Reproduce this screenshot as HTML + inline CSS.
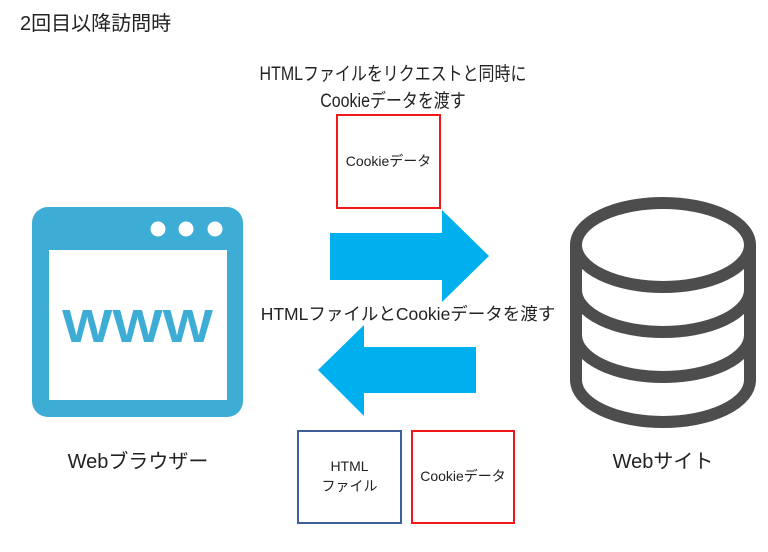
<!DOCTYPE html>
<html><head><meta charset="utf-8"><style>
body{margin:0;width:768px;height:552px;background:#fff;position:relative;overflow:hidden;font-family:"Liberation Sans","Noto Sans CJK JP",sans-serif;color:#222}
.t{position:absolute;white-space:nowrap;line-height:1}
.c{transform:translateX(-50%);text-align:center}
.box{position:absolute;box-sizing:border-box;border:2px solid #f01818;display:flex;align-items:center;justify-content:center;font-size:14px;text-align:center;line-height:1.4}
</style></head><body>
<div class="t" style="left:20px;top:14px;font-size:20px">2回目以降訪問時</div>
<div class="t c" style="left:393px;top:61px;font-size:19px;line-height:27px;transform:translateX(-50%) scaleX(0.84)">HTMLファイルをリクエストと同時に<br>Cookieデータを渡す</div>
<div class="box" style="left:336px;top:114px;width:105px;height:95px">Cookieデータ</div>
<div class="t c" style="left:408px;top:306px;font-size:17.5px">HTMLファイルとCookieデータを渡す</div>
<div class="box" style="left:297px;top:430px;width:105px;height:94px;border-color:#3f5f9a">HTML<br>ファイル</div>
<div class="box" style="left:411px;top:430px;width:104px;height:94px">Cookieデータ</div>
<div class="t c" style="left:138px;top:452px;font-size:20px">Webブラウザー</div>
<div class="t c" style="left:663px;top:452px;font-size:20px">Webサイト</div>
<svg width="768" height="552" style="position:absolute;left:0;top:0">
<rect x="32" y="207" width="211" height="210" rx="16" fill="#3dadd6"/>
<rect x="49" y="250" width="178" height="150" fill="#fff"/>
<circle cx="158" cy="229" r="7.5" fill="#fff"/><circle cx="186" cy="229" r="7.5" fill="#fff"/><circle cx="215" cy="229" r="7.5" fill="#fff"/>
<text x="62" y="342" textLength="151" lengthAdjust="spacingAndGlyphs" font-family="Liberation Sans,sans-serif" font-weight="bold" font-size="46" fill="#3dadd6">WWW</text>
<polygon points="330,233 442,233 442,210 489,256 442,302 442,280 330,280" fill="#00b0ee"/>
<polygon points="476,347 364,347 364,325 318,370 364,416 364,393 476,393" fill="#00b0ee"/>
<g fill="none" stroke="#4d4d4d" stroke-width="12">
<ellipse cx="663" cy="245" rx="87" ry="42"/>
<path d="M576 245 V380 A87 42 0 0 0 750 380 V245"/>
<path d="M576 290 A87 42 0 0 0 750 290"/>
<path d="M576 335 A87 42 0 0 0 750 335"/>
</g>
</svg>
</body></html>
